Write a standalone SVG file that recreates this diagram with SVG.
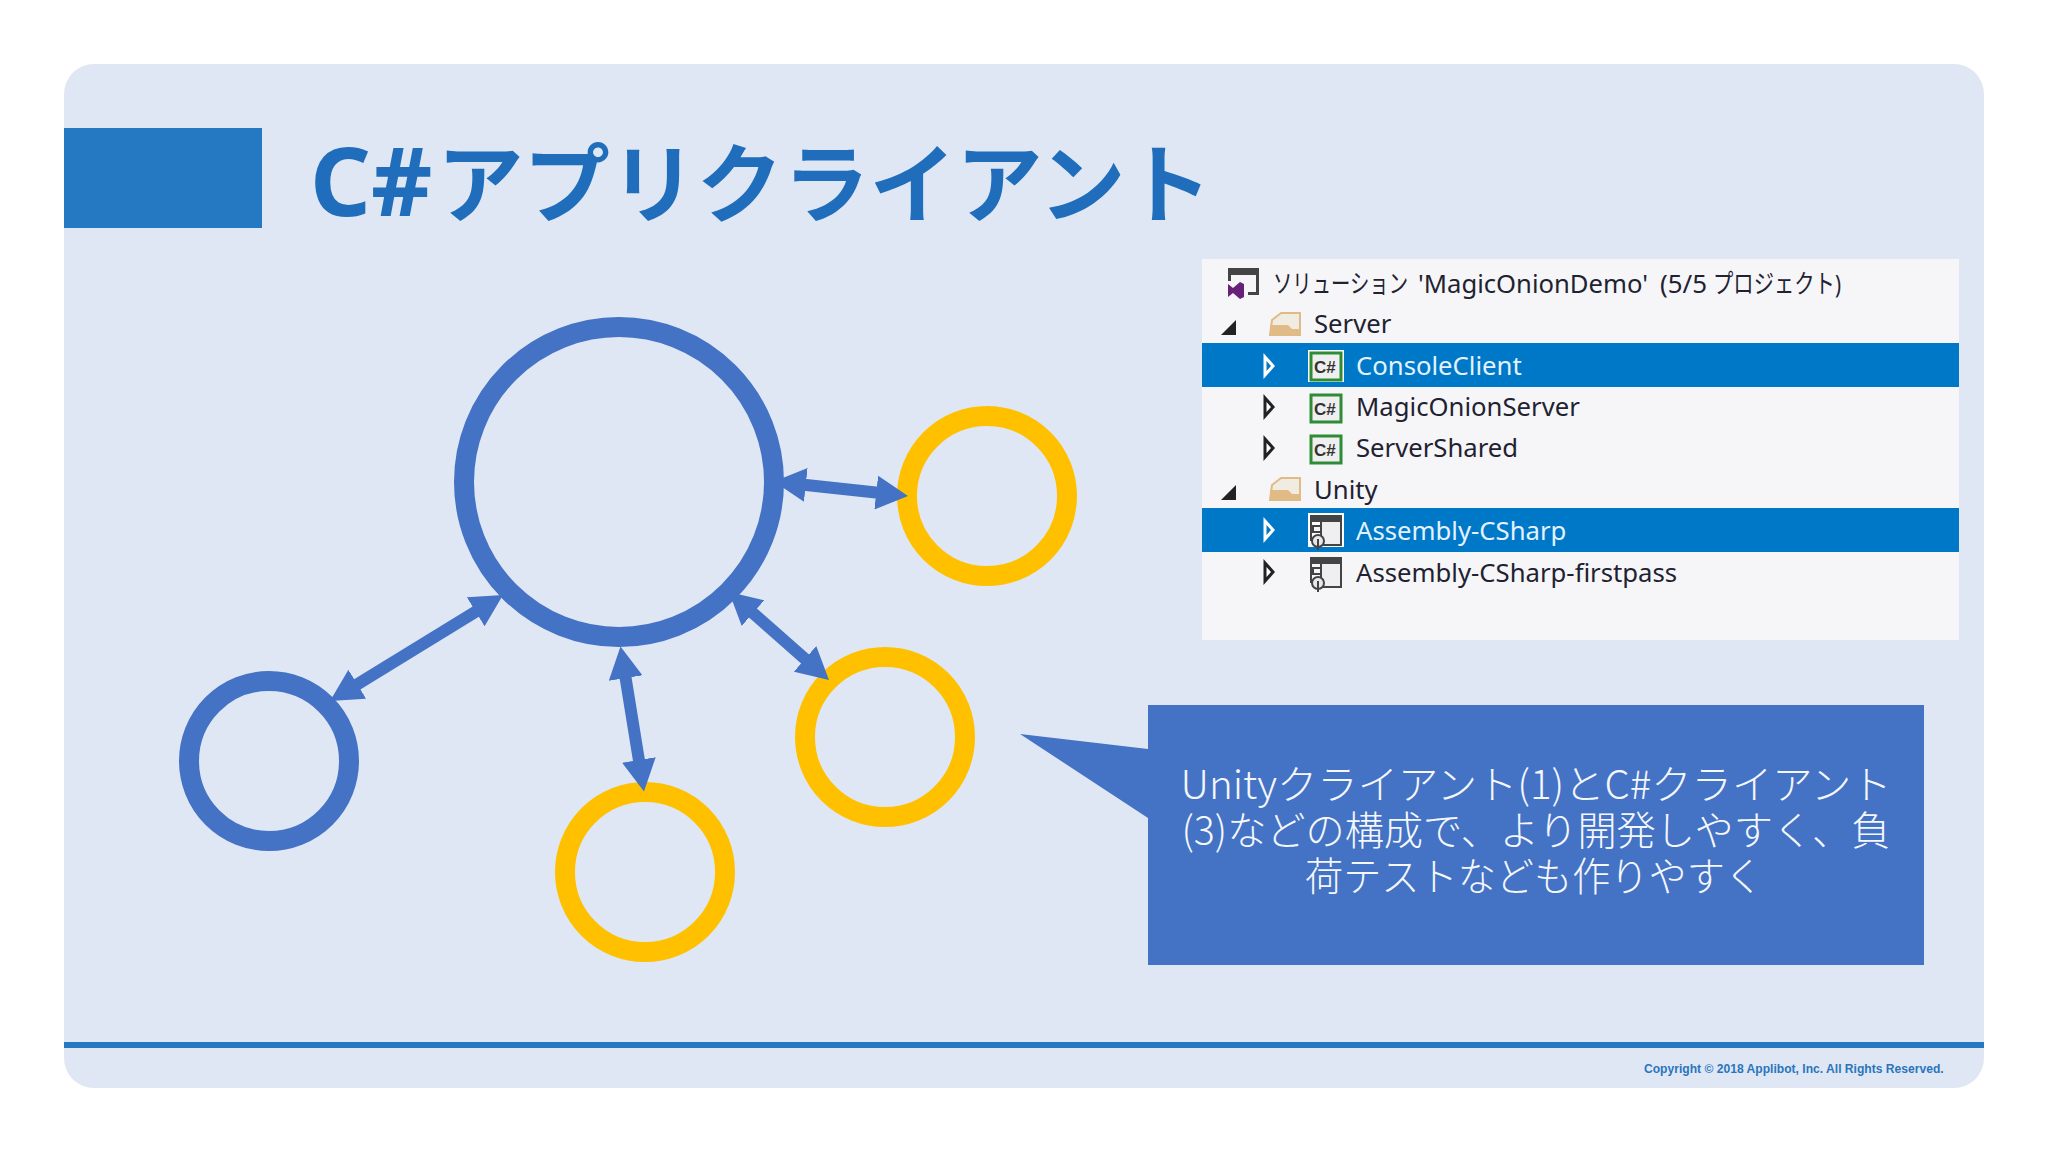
<svg xmlns="http://www.w3.org/2000/svg" width="2048" height="1152" viewBox="0 0 2048 1152">
<style>
.tree{font-family:"Noto Sans","Noto Sans CJK JP",sans-serif;font-size:25.7px;fill:#1f2230}
.sel{fill:#e4f2ff}
.cs{font-family:"Liberation Sans",sans-serif;font-size:17px;font-weight:700;fill:#333}
.blue{fill:none;stroke:#4472c4;stroke-width:20}
.gold{fill:none;stroke:#ffc000;stroke-width:20}
.conn{stroke:#4472c4;stroke-width:12;fill:none;marker-start:url(#hs);marker-end:url(#he)}
.call{font-family:"Noto Sans CJK JP","Noto Sans",sans-serif;font-size:39.5px;font-weight:300;fill:#f4f7fc;text-anchor:middle}
.csb{fill:#efefef;stroke:#2e8b36;stroke-width:3}
.tri{fill:#fff;stroke:#222;stroke-width:3}
.trw{fill:#0078c8;stroke:#fff;stroke-width:3}
.fold{fill:#e0bb85}
.fb{fill:#f0ece2;stroke:#e0bb85;stroke-width:2}
</style>
<defs>
<marker id="he" viewBox="0 0 32 34" refX="2" refY="17" markerWidth="32" markerHeight="34" markerUnits="userSpaceOnUse" orient="auto"><path d="M0 0L32 17L0 34Z" fill="#4472c4"/></marker>
<marker id="hs" viewBox="0 0 32 34" refX="30" refY="17" markerWidth="32" markerHeight="34" markerUnits="userSpaceOnUse" orient="auto"><path d="M32 0L0 17L32 34Z" fill="#4472c4"/></marker>
<g id="proj">
<rect x="11" y="6" width="20" height="24" fill="#efeff2" stroke="#444" stroke-width="2"/>
<rect x="0" y="0" width="32" height="7" fill="#444"/>
<rect x="0" y="0" width="2" height="26" fill="#444"/>
<rect x="3" y="11" width="8" height="6" fill="#f5f5f8" stroke="#444" stroke-width="2"/>
<circle cx="8" cy="26" r="6" fill="#e8e8ea" stroke="#444" stroke-width="2"/>
<path d="M8 24V35" stroke="#444" stroke-width="2"/>
</g>
</defs>
<rect width="2048" height="1152" fill="#fff"/>
<g id="slide">
<rect x="64" y="64" width="1920" height="1024" rx="30" fill="#dfe7f5"/>
<rect x="64" y="128" width="198" height="100" fill="#2579c3"/>
<rect x="64" y="1042" width="1920" height="6" fill="#2579c3"/>
<text x="310" y="216" font-family="'Noto Sans','Noto Sans CJK JP',sans-serif" font-size="95" font-weight="700" fill="#1f6dbb">C#<tspan x="437" font-size="86.5">アプリクライアント</tspan></text>
<text x="1644" y="1073" font-family="'Liberation Sans',sans-serif" font-size="12.1" font-weight="700" fill="#2a75bb">Copyright © 2018 Applibot, Inc. All Rights Reserved.</text>
</g>
<g id="node-main"><circle class="blue" cx="619" cy="482" r="155"/></g>
<g id="node-blue"><circle class="blue" cx="269" cy="761" r="80"/></g>
<g id="node-gold1"><circle class="gold" cx="987" cy="496" r="80"/></g>
<g id="node-gold2"><circle class="gold" cx="885" cy="737" r="80"/></g>
<g id="node-gold3"><circle class="gold" cx="645" cy="872" r="80"/></g>
<g id="connectors">
<line class="conn" x1="803.8" y1="484.7" x2="878.2" y2="492.8"/>
<line class="conn" x1="477.4" y1="610.7" x2="355.6" y2="685.3"/>
<line class="conn" x1="625.3" y1="676.1" x2="639.2" y2="761.9"/>
<line class="conn" x1="751.5" y1="611.8" x2="806.5" y2="660.2"/>
</g>
<g id="callout">
<path d="M1148 705H1924V965H1148V818L1020 734L1148 749Z" fill="#4472c4"/>
<text class="call" x="1536" y="799" textLength="711" lengthAdjust="spacingAndGlyphs">Unityクライアント(1)とC#クライアント</text>
<text class="call" x="1536" y="845" textLength="709" lengthAdjust="spacingAndGlyphs">(3)などの構成で、より開発しやすく、負</text>
<text class="call" x="1534" y="891" textLength="458" lengthAdjust="spacingAndGlyphs">荷テストなども作りやすく</text>
</g>
<g id="solution-tree">
<rect x="1202" y="259" width="757" height="381" fill="#f6f6f9"/>
<rect x="1202" y="343" width="757" height="44" fill="#0078c8"/>
<rect x="1202" y="508" width="757" height="44" fill="#0078c8"/>
<g id="row-solution">
<path d="M1228 268H1259V295H1248V292H1256V275H1231V281H1228Z" fill="#444"/>
<path d="M1228 284L1233 288L1240 282L1244 284V297L1240 299L1233 293L1228 297Z" fill="#68217a"/>
<text class="tree" y="293"><tspan x="1273" textLength="135" lengthAdjust="spacingAndGlyphs">ソリューション</tspan> <tspan x="1418" textLength="230" lengthAdjust="spacingAndGlyphs">'MagicOnionDemo'</tspan> <tspan x="1660" textLength="47" lengthAdjust="spacingAndGlyphs">(5/5</tspan> <tspan x="1713" textLength="128" lengthAdjust="spacingAndGlyphs">プロジェクト)</tspan></text>
</g>
<g id="row-server">
<path d="M1221 335L1236 320V335Z" fill="#222"/>
<path d="M1272 320L1281 313H1300V335H1270Z" class="fb"/><path d="M1270 325H1288L1292 329H1300V336H1270Z" class="fold"/>
<text class="tree" x="1314" y="333">Server</text>
</g>
<g id="row-console">
<path d="M1265 357L1273 366L1265 375Z" class="trw"/>
<rect x="1308" y="350" width="36" height="32" fill="#fff"/><rect class="csb" x="1311" y="353" width="30" height="27"/>
<text class="cs" x="1314" y="373">C#</text>
<text class="tree sel" x="1356" y="375">ConsoleClient</text>
</g>
<g id="row-magic">
<path d="M1265 398L1273 407L1265 416Z" class="tri"/>
<rect class="csb" x="1311" y="395" width="30" height="27"/>
<text class="cs" x="1314" y="415">C#</text>
<text class="tree" x="1356" y="416">MagicOnionServer</text>
</g>
<g id="row-shared">
<path d="M1265 439L1273 448L1265 457Z" class="tri"/>
<rect class="csb" x="1311" y="436" width="30" height="27"/>
<text class="cs" x="1314" y="456">C#</text>
<text class="tree" x="1356" y="457">ServerShared</text>
</g>
<g id="row-unity">
<path d="M1221 500L1236 485V500Z" fill="#222"/>
<path d="M1272 485L1281 478H1300V500H1270Z" class="fb"/><path d="M1270 490H1288L1292 494H1300V501H1270Z" class="fold"/>
<text class="tree" x="1314" y="499">Unity</text>
</g>
<g id="row-assembly">
<path d="M1265 521L1273 530L1265 539Z" class="trw"/>
<rect x="1308" y="513" width="36" height="34" fill="#fff"/>
<use href="#proj" x="1310" y="515"/>
<text class="tree sel" x="1356" y="540">Assembly-CSharp</text>
</g>
<g id="row-firstpass">
<path d="M1265 563L1273 572L1265 581Z" class="tri"/>
<use href="#proj" x="1310" y="557"/>
<text class="tree" x="1356" y="582">Assembly-CSharp-firstpass</text>
</g>
</g>
</svg>
